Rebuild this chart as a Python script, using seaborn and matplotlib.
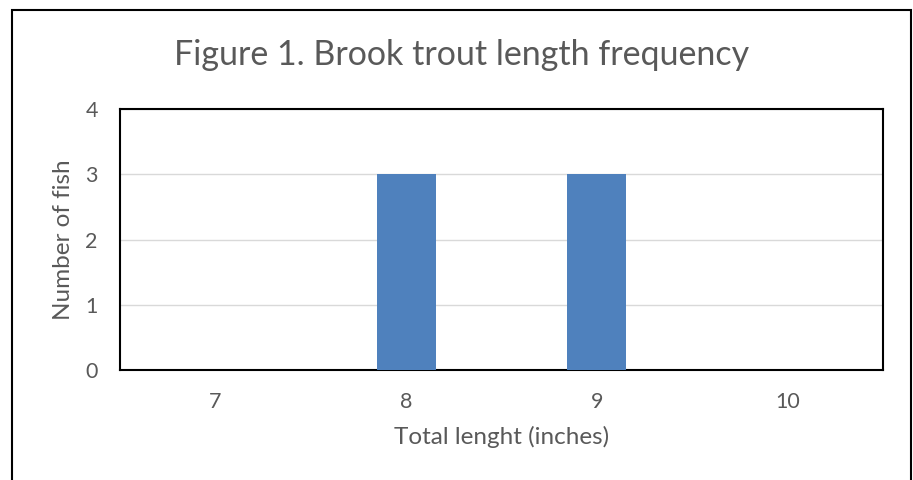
import matplotlib
matplotlib.use("Agg")
import matplotlib.pyplot as plt
import seaborn as sns
import pandas as pd
from matplotlib.patches import Rectangle

lengths = ["7", "8", "9", "10"]
counts = [0, 3, 3, 0]

df = pd.DataFrame({"length": lengths, "count": counts})

sns.set_style("white")
plt.rcParams["font.family"] = ["Lato", "DejaVu Sans"]
grey = "#595959"

fig = plt.figure(figsize=(9.13, 4.8), dpi=100)
ax = fig.add_axes([120 / 913, 1 - 370 / 480, 763 / 913, 261 / 480])

sns.barplot(data=df, x="length", y="count", color="#4F81BD", width=0.31,
            saturation=1, linewidth=0, ax=ax, zorder=3)

ax.set_ylim(0, 4)
ax.set_yticks([0, 1, 2, 3, 4])
ax.grid(axis="y", color="#D9D9D9", linewidth=1, zorder=0)
ax.set_axisbelow(True)
for s in ax.spines.values():
    s.set_color("black")
    s.set_linewidth(1.5)

ax.tick_params(axis="both", colors=grey, labelsize=15.5, length=0)
ax.tick_params(axis="x", pad=16)
ax.tick_params(axis="y", pad=16)
ax.set_xlabel("Total lenght (inches)", fontsize=17.5, color=grey, labelpad=10)
ax.set_ylabel("Number of fish", fontsize=17.5, color=grey, labelpad=8)

fig.text(462 / 913, 1 - 55 / 480, "Figure 1. Brook trout length frequency",
         ha="center", va="center", fontsize=24.5, color=grey)

fig.patches.append(Rectangle((12 / 913, -0.1), (911 - 12) / 913, 1.1 - 10 / 480,
                             transform=fig.transFigure, fill=False,
                             edgecolor="black", linewidth=1.5))

plt.savefig("out.png", dpi=100)
